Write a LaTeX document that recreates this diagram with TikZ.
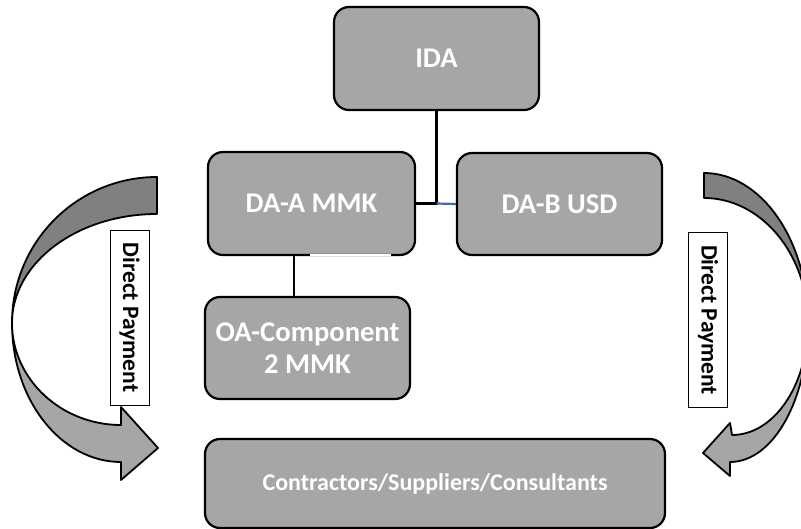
\documentclass[tikz,border=0pt]{standalone}
\usepackage{fontspec}
\setmainfont{Carlito}
\definecolor{boxgray}{RGB}{166,166,166}
\definecolor{darkarrow}{RGB}{128,128,128}
\definecolor{linkblue}{RGB}{70,105,165}
\begin{document}
\begin{tikzpicture}[x=1pt,y=-1pt,
  nodebox/.style={draw=black, line width=2.2pt, fill=boxgray, rounded corners=15pt,
    text=white, font=\bfseries\fontsize{28.6}{32}\selectfont, align=center, inner sep=0pt},
  conn/.style={line width=2.2pt},
  paylabel/.style={draw=black, line width=0.8pt, fill=white, rotate=-90,
    font=\bfseries\fontsize{23.5}{26}\selectfont, inner sep=0pt,
    minimum width=175pt, minimum height=39pt},
  arrowdark/.style={fill=darkarrow, draw=black, line width=1.8pt, line join=round},
  arrowlight/.style={fill=boxgray, draw=black, line width=1.8pt, line join=round}]
\useasboundingbox (0,0) rectangle (801,529);
\clip (0,0) rectangle (801,529);

% curved arrows
\filldraw[arrowdark] (157,177) .. controls (77,177) and (12,242) .. (12,323)
  .. controls (12,263) and (77,214) .. (157,214) -- cycle;
\filldraw[arrowlight] (12,323) .. controls (12,400) and (61,462) .. (121,462)
  -- (121,480) -- (158,448) -- (121,407) -- (121,425)
  .. controls (61,425) and (12,379) .. (12,323) -- cycle;
\filldraw[arrowdark] (704,173) .. controls (761,173) and (808,240) .. (808,323)
  .. controls (808,254) and (761,198) .. (704,198) -- cycle;
\filldraw[arrowlight] (808,323) .. controls (808,400) and (773,462) .. (730,462)
  -- (730,476) -- (703,453) -- (730,423) -- (732,435)
  .. controls (774,435) and (808,385) .. (808,323) -- cycle;

% boxes
\node[nodebox, minimum width=205pt, minimum height=103pt] (IDA) at (436.5,58.5) {IDA};
\node[nodebox, minimum width=207pt, minimum height=103pt] (DAA) at (311.5,203.5) {DA-A MMK};
\node[nodebox, minimum width=205pt, minimum height=102pt] (DAB) at (559.5,204) {DA-B USD};
\node[nodebox, minimum width=205pt, minimum height=102pt] (OA) at (307.5,348) {OA-Component\\2 MMK};
\node[nodebox, minimum width=460pt, minimum height=89pt,
  font=\bfseries\fontsize{24}{27}\selectfont] (CSC) at (435,483.5) {Contractors/Suppliers/Consultants};

% connectors
\coordinate (aux) at (294,0);
\draw[conn] (IDA.south) -- (IDA.south |- DAA.east) coordinate (J) -- (DAA.east);
\draw[conn, draw=linkblue] (J) -- (DAB.west);
\draw[conn] (DAA.south -| aux) -- (OA.north -| aux);
\draw[white, line width=2.6pt] (310,255) -- (391,255);

% labels
\node[paylabel] (LP) at (129.5,317.5) {Direct Payment};
\node[paylabel] (RP) at (708,320) {Direct Payment};
\end{tikzpicture}
\end{document}
